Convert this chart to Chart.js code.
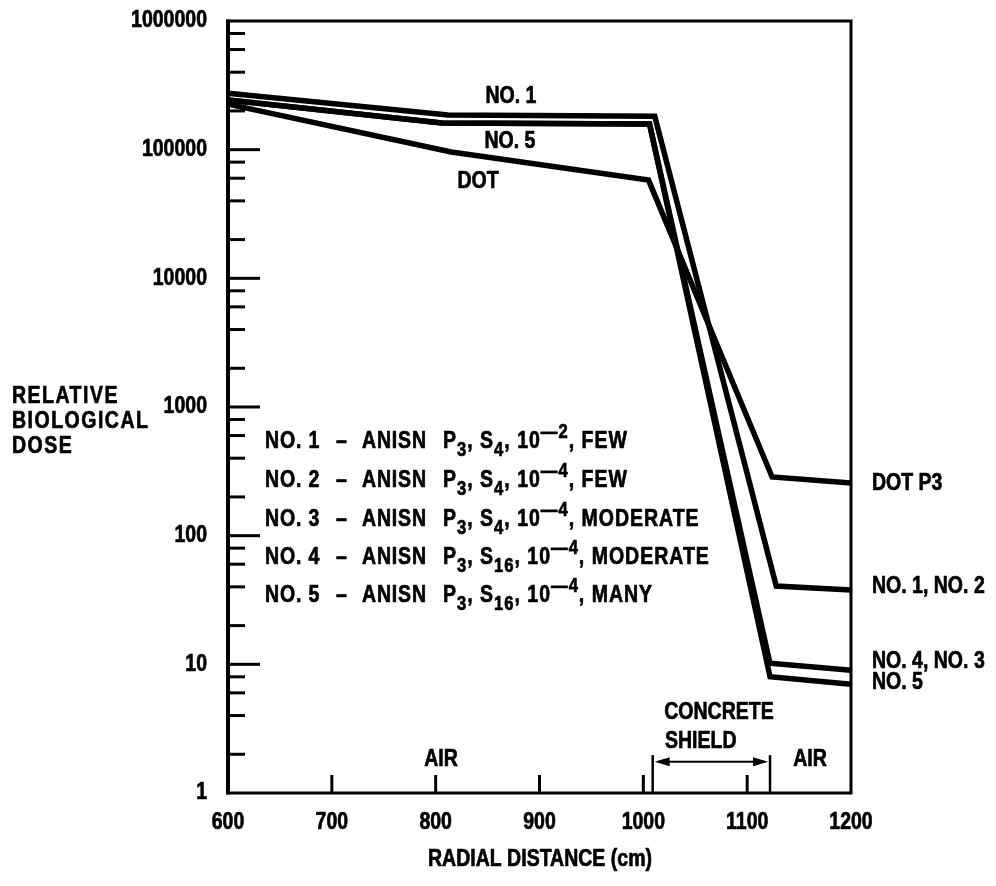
<!DOCTYPE html>
<html>
<head>
<meta charset="utf-8">
<script src="https://cdn.jsdelivr.net/npm/chart.js@4"></script>
<style>
  body { margin: 0; background: #fff; }
  canvas { display: block; }
</style>
</head>
<body>
<canvas id="chart" width="996" height="886"></canvas>
<script>
// axis ticks
const xTicks = [600, 700, 800, 900, 1000, 1100, 1200];
const yTicks = [1, 10, 100, 1000, 10000, 100000, 1000000];

// series (radial distance in cm, relative dose)
const dotX = [600, 815, 1005, 1124, 1200];
const dotY = [226000, 96000, 58000, 286, 257];
const no12X = [600, 812, 1011, 1128, 1200];
const no12Y = [275000, 186000, 182000, 40.6, 37.8];
const no34X = [600, 806, 1006, 1122, 1200];
const no34Y = [243000, 161000, 158000, 10.2, 9.0];
const no5X = [600, 806, 1006, 1122, 1200];
const no5Y = [243000, 161000, 158000, 8.0, 7.0];

// legend table
const caseNames = ['NO. 1', 'NO. 2', 'NO. 3', 'NO. 4', 'NO. 5'];
const caseS = ['4', '4', '4', '16', '16'];
const caseExp = ['2', '4', '4', '4', '4'];
const caseGrid = ['FEW', 'FEW', 'MODERATE', 'MODERATE', 'MANY'];

const FAMILY = '"Liberation Sans", Arial, sans-serif';
const SQUEEZE = 0.83;   // the original lettering is tall and narrow
const font = (size) => `bold ${size}px ${FAMILY}`;

function toPoints(xs, ys) {
  return xs.map((x, i) => ({ x: x, y: ys[i] }));
}

function seg(ctx, x1, y1, x2, y2) {
  ctx.beginPath();
  ctx.moveTo(x1, y1);
  ctx.lineTo(x2, y2);
  ctx.stroke();
}

function arrowHead(ctx, x, y, dir) {
  ctx.beginPath();
  ctx.moveTo(x, y);
  ctx.lineTo(x - dir * 15, y - 4.5);
  ctx.lineTo(x - dir * 15, y + 4.5);
  ctx.closePath();
  ctx.fill();
}

// squeezed bold text, returns drawn width
function txt(ctx, s, x, y, align, size, spacing) {
  ctx.save();
  ctx.font = font(size || 23.5);
  ctx.letterSpacing = (spacing || 0) + 'px';
  ctx.textAlign = align || 'left';
  ctx.textBaseline = 'middle';
  ctx.translate(x, y);
  ctx.scale(SQUEEZE, 1);
  ctx.lineWidth = 0.7;
  ctx.lineJoin = 'round';
  ctx.fillText(s, 0, 0);
  ctx.strokeText(s, 0, 0);
  const w = ctx.measureText(s).width * SQUEEZE;
  ctx.restore();
  return w;
}

// text pieces with sub/superscripts, returns end x
function rich(ctx, x, y, parts) {
  for (const [t, kind] of parts) {
    if (kind === 'sub') x += txt(ctx, t, x, y + 8, 'left', 20, 1.2);
    else if (kind === 'sup') x += txt(ctx, t, x, y - 10, 'left', 20, 1.2);
    else x += txt(ctx, t, x, y, 'left', 23.5, 1.2);
  }
  return x;
}

const framePlugin = {
  id: 'frame',
  afterDatasetsDraw(chart) {
    const { ctx, chartArea: a, scales: { x, y } } = chart;
    ctx.save();
    ctx.strokeStyle = '#000';
    ctx.fillStyle = '#000';
    ctx.lineCap = 'butt';

    // frame
    ctx.lineWidth = 3;
    ctx.strokeRect(a.left, a.top, a.right - a.left, a.bottom - a.top);
    ctx.lineWidth = 4;
    seg(ctx, a.left, a.top - 1.5, a.left, a.bottom + 1.5);

    // inner ticks on the log axis
    ctx.lineWidth = 3;
    for (let d = 0; d < 6; d++) {
      for (const m of [1, 2, 4, 6, 8]) {
        const v = Math.pow(10, d) * m;
        if (v === 1) continue;
        const py = y.getPixelForValue(v);
        seg(ctx, a.left, py, a.left + (m === 1 ? 32 : 17), py);
      }
    }
    // inner ticks on the distance axis
    for (const v of xTicks.slice(1, -1)) {
      const px = x.getPixelForValue(v);
      seg(ctx, px, a.bottom, px, a.bottom - 18);
    }

    // tick labels, placed by the scales
    for (const t of y.ticks) {
      txt(ctx, String(t.value), a.left - 21, y.getPixelForValue(t.value), 'right');
    }
    for (const t of x.ticks) {
      txt(ctx, String(t.value), x.getPixelForValue(t.value), a.bottom + 30, 'center');
    }

    // concrete shield bracket
    const s1 = x.getPixelForValue(1009);
    const s2 = x.getPixelForValue(1122);
    const top = y.getPixelForValue(1.97);
    const ay = y.getPixelForValue(1.75);
    ctx.lineWidth = 2.5;
    seg(ctx, s1, a.bottom, s1, top);
    seg(ctx, s2, a.bottom, s2, top);
    ctx.lineWidth = 2;
    seg(ctx, s1 + 6, ay, s2 - 6, ay);
    arrowHead(ctx, s1 + 2, ay, -1);
    arrowHead(ctx, s2 - 2, ay, 1);

    // annotations
    txt(ctx, 'NO. 1', 511, 97, 'center');
    txt(ctx, 'NO. 5', 510, 142, 'center');
    txt(ctx, 'DOT', 478, 182, 'center');
    txt(ctx, 'AIR', 441, 760, 'center');
    txt(ctx, 'AIR', 810, 760, 'center');
    txt(ctx, 'CONCRETE', 719, 713, 'center');
    txt(ctx, 'RADIAL DISTANCE (cm)', 540, 860, 'center');
    txt(ctx, 'SHIELD', 665, 742, 'left');
    txt(ctx, 'DOT P3', 872, 484, 'left');
    txt(ctx, 'NO. 1, NO. 2', 872, 587, 'left');
    txt(ctx, 'NO. 4, NO. 3', 872, 662, 'left');
    txt(ctx, 'NO. 5', 872, 683, 'left');

    txt(ctx, 'RELATIVE', 12, 397, 'left', 23.5, 1.8);
    txt(ctx, 'BIOLOGICAL', 12, 422, 'left', 23.5, 1.8);
    txt(ctx, 'DOSE', 12, 447, 'left', 23.5, 1.8);

    // legend rows
    const rowY = [442, 481, 520, 558, 596];
    caseNames.forEach((name, i) => {
      const ry = rowY[i];
      txt(ctx, name, 265, ry, 'left', 23.5, 1);
      txt(ctx, '\u2013', 336, ry, 'left');
      txt(ctx, 'ANISN', 362, ry, 'left', 23.5, 1);
      rich(ctx, 443, ry, [
        ['P', 'n'], ['3', 'sub'], [', ', 'n'],
        ['S', 'n'], [caseS[i], 'sub'], [', ', 'n'],
        ['10', 'n'], ['\u2014' + caseExp[i], 'sup'], [', ' + caseGrid[i], 'n']
      ]);
    });

    ctx.restore();
  }
};

const lineStyle = {
  borderColor: '#000',
  borderWidth: 5.5,
  pointRadius: 0,
  fill: false,
  tension: 0,
  clip: false
};

new Chart(document.getElementById('chart'), {
  type: 'line',
  data: {
    datasets: [
      { label: 'DOT', data: toPoints(dotX, dotY), ...lineStyle },
      { label: 'NO. 1, NO. 2', data: toPoints(no12X, no12Y), ...lineStyle },
      { label: 'NO. 4, NO. 3', data: toPoints(no34X, no34Y), ...lineStyle },
      { label: 'NO. 5', data: toPoints(no5X, no5Y), ...lineStyle }
    ]
  },
  options: {
    responsive: false,
    animation: false,
    devicePixelRatio: 1,
    layout: { padding: { left: 0, top: 21, right: 145, bottom: 0 } },
    scales: {
      x: {
        type: 'linear',
        min: 600,
        max: 1200,
        afterBuildTicks: (s) => { s.ticks = xTicks.map(v => ({ value: v })); },
        afterFit: (s) => { s.height = 93; },
        ticks: { display: false },
        grid: { display: false, drawTicks: false },
        border: { display: false }
      },
      y: {
        type: 'logarithmic',
        min: 1,
        max: 1000000,
        afterBuildTicks: (s) => { s.ticks = yTicks.map(v => ({ value: v })); },
        afterFit: (s) => { s.width = 228; },
        ticks: { display: false },
        grid: { display: false, drawTicks: false },
        border: { display: false }
      }
    },
    plugins: {
      legend: { display: false },
      tooltip: { enabled: false }
    }
  },
  plugins: [framePlugin]
});
</script>
</body>
</html>
